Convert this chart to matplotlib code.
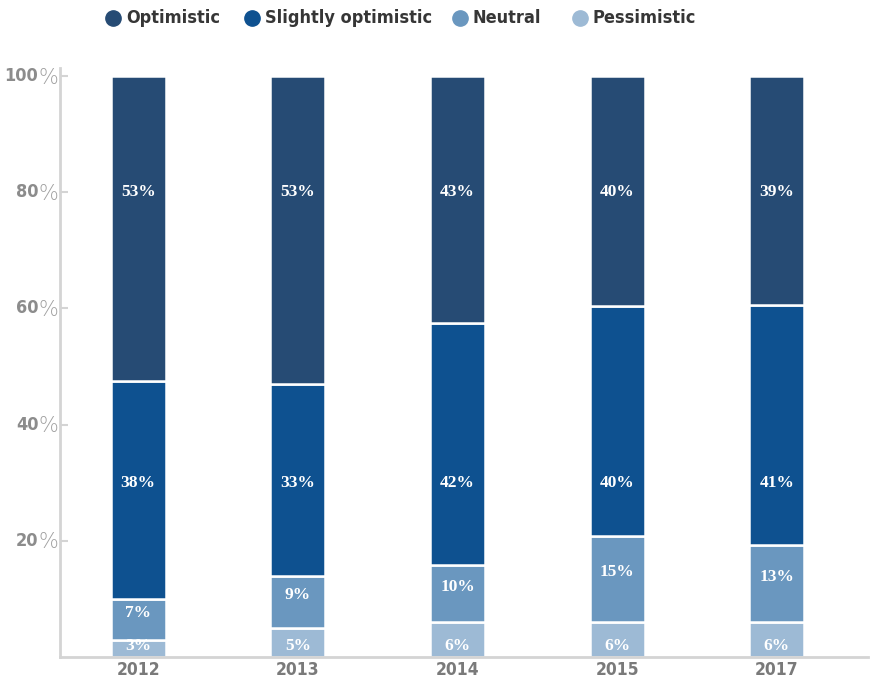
import matplotlib.pyplot as plt
from matplotlib.lines import Line2D

years = ['2012', '2013', '2014', '2015', '2017']
pessimistic = [3, 5, 6, 6, 6]
neutral = [7, 9, 10, 15, 13]
slightly = [38, 33, 42, 40, 41]
optimistic = [53, 53, 43, 40, 39]

names = ['Optimistic', 'Slightly optimistic', 'Neutral', 'Pessimistic']
colors = ['#264b74', '#0e5190', '#6a97bf', '#9dbad5']
yticks = [20, 40, 60, 80, 100]

narrow = dict(family='DejaVu Sans', stretch='condensed', weight='bold')
serif = ['Liberation Serif', 'DejaVu Serif']

fig = plt.figure(figsize=(8.81, 6.82), dpi=100)
ax = fig.add_axes([0.068, 0.0367, 0.917, 0.8636])

x = range(len(years))
series = [pessimistic, neutral, slightly, optimistic]
seg_colors = colors[::-1]
bottoms = [0.0] * len(years)
for vals, col in zip(series, seg_colors):
    heights = []
    for i, v in enumerate(vals):
        total = pessimistic[i] + neutral[i] + slightly[i] + optimistic[i]
        heights.append(v * 100.0 / total)
    ax.bar(x, heights, bottom=bottoms, width=0.344, color=col,
           edgecolor='white', linewidth=1.8, zorder=2)
    # value labels
    for i, (h, b, v) in enumerate(zip(heights, bottoms, vals)):
        if vals is optimistic:
            ty = 80
        elif vals is slightly:
            ty = 30
        elif vals is neutral:
            ty = b + h / 2 + 1.2
        else:
            ty = 1.9
        ax.text(i, ty, f'{v}%', ha='center', va='center', color='white',
                fontsize=12.5, fontweight='bold', family=serif, zorder=3)
    bottoms = [b + h for b, h in zip(bottoms, heights)]

ax.set_xlim(-0.49, 4.57)
ax.set_ylim(0, 101.4)

for side in ['top', 'right']:
    ax.spines[side].set_visible(False)
for side in ['left', 'bottom']:
    ax.spines[side].set_color('#d4d4d4')
    ax.spines[side].set_linewidth(2)

ax.set_xticks(list(x))
ax.set_xticklabels(years)
for lab in ax.get_xticklabels():
    lab.set_family('DejaVu Sans')
    lab.set_stretch('condensed')
    lab.set_fontweight('bold')
    lab.set_fontsize(12.5)
    lab.set_color('#7a7a7a')
ax.tick_params(axis='x', length=0, pad=3)

ax.set_yticks(yticks)
ax.set_yticklabels([])
ax.tick_params(axis='y', direction='in', length=6, width=1.5, color='#d4d4d4')

# y tick labels: bold number plus a thin percent sign
for t in yticks:
    ax.annotate('%', xy=(0, t), xycoords=('axes fraction', 'data'),
                xytext=(-1.5, -1), textcoords='offset points',
                ha='right', va='center', fontsize=15, color='#a0a0a0',
                family=['DejaVu Sans'], fontweight='light')
    ax.annotate(str(t), xy=(0, t), xycoords=('axes fraction', 'data'),
                xytext=(-15.5, 0), textcoords='offset points',
                ha='right', va='center', fontsize=13, color='#8c8c8c',
                **narrow)

# legend row drawn by hand
leg_x = [113, 252, 460, 580]
for name, col, px in zip(names, colors, leg_x):
    fx = px / 881
    fig.add_artist(Line2D([fx], [1 - 18 / 682], marker='o', markersize=11,
                          color=col, linestyle='none', transform=fig.transFigure))
    fig.text(fx + 13 / 881, 1 - 18 / 682, name, ha='left', va='center',
             fontsize=13, color='#363636', **narrow)

fig.savefig('out.png', dpi=100)
